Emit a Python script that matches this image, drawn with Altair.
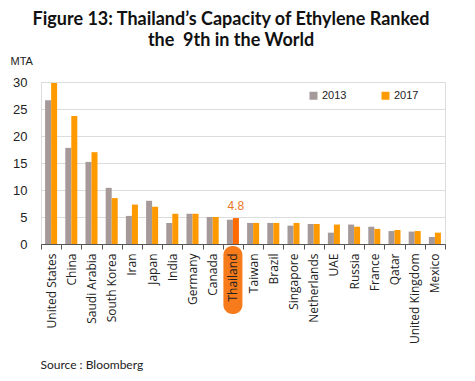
import altair as alt
import pandas as pd

countries = ["United States", "China", "Saudi Arabia", "South Korea", "Iran", "Japan",
             "India", "Germany", "Canada", "Thailand", "Taiwan", "Brazil", "Singapore",
             "Netherlands", "UAE", "Russia", "France", "Qatar", "United Kingdom", "Mexico"]
v2013 = [26.6, 17.8, 15.2, 10.4, 5.2, 8.0, 3.9, 5.6, 5.0, 4.5, 3.9, 3.9, 3.4, 3.7, 2.1, 3.6, 3.2, 2.4, 2.3, 1.3]
v2017 = [29.8, 23.7, 17.0, 8.5, 7.3, 6.9, 5.6, 5.6, 5.0, 4.8, 3.9, 3.9, 3.9, 3.7, 3.6, 3.2, 2.8, 2.6, 2.4, 2.1]
years = ["2013", "2017"]
highlight = "Thailand"

rows = []
for c, a, b in zip(countries, v2013, v2017):
    rows.append({"country": c, "year": "2013", "value": a, "ckey": "2013"})
    rows.append({"country": c, "year": "2017", "value": b, "ckey": "hl" if c == highlight else "2017"})
df = pd.DataFrame(rows)
hl_df = df[(df.country == highlight) & (df.year == "2017")]
box_df = pd.DataFrame({"country": [highlight]})

xscale = alt.Scale(domain=countries, paddingInner=0, paddingOuter=0)

xaxis = alt.Axis(
    labelAngle=-90, labelFont="Open Sans", labelFontSize=12, labelColor="#222",
    labelPadding=4, tickSize=5, tickBand="extent", domainColor="#555", tickColor="#555",
    title="Source : Bloomberg", titleFont="Lato", titleFontSize=12, titleFontWeight="normal",
    titleColor="#222", titleX=-1, titleY=120, titleAlign="left", titleAnchor="start",
    titleBaseline="middle", zindex=1, grid=False,
)
yaxis = alt.Axis(
    values=[0, 5, 10, 15, 20, 25, 30], labelFont="Liberation Sans", labelFontSize=13,
    labelColor="#222", labelPadding=14, ticks=False, domain=False, gridColor="#DCDCDC",
    title="MTA", titleFont="Liberation Sans", titleFontSize=11, titleFontWeight="normal",
    titleColor="#222", titleAngle=0, titleX=-31, titleY=-21, titleAlign="left",
    titleBaseline="middle",
)

box = alt.Chart(box_df).mark_bar(width=19, cornerRadius=9, color="#F77B1A").encode(
    x=alt.X("country:N", scale=xscale, axis=xaxis),
    y=alt.value(164), y2=alt.value(232),
)

bars = alt.Chart(df).mark_bar().encode(
    x=alt.X("country:N", scale=xscale, axis=xaxis),
    xOffset=alt.XOffset("year:N", scale=alt.Scale(domain=years, paddingInner=0, paddingOuter=0.68)),
    y=alt.Y("value:Q", scale=alt.Scale(domain=[0, 30]), axis=yaxis),
    color=alt.Color("ckey:N",
                    scale=alt.Scale(domain=["2013", "2017", "hl"], range=["#A6999A", "#FF9900", "#FF6A00"]),
                    legend=alt.Legend(values=years, title=None, orient="none", legendX=267, legendY=8,
                                      direction="horizontal", symbolType="square", symbolSize=64,
                                      symbolStrokeWidth=0, labelFont="Liberation Sans", labelFontSize=11,
                                      labelColor="#222", columnPadding=33, labelOffset=3, padding=0)),
)

label = alt.Chart(hl_df).mark_text(dy=-12, font="Liberation Sans", fontSize=12, color="#E8761F").encode(
    x=alt.X("country:N", scale=xscale, axis=xaxis),
    xOffset=alt.XOffset("year:N", scale=alt.Scale(domain=years, paddingInner=0, paddingOuter=0.68)),
    y=alt.Y("value:Q", scale=alt.Scale(domain=[0, 30]), axis=yaxis),
    text=alt.Text("value:Q", format=".1f"),
)

chart = alt.layer(box, bars, label).properties(
    width=404, height=162,
    autosize=alt.AutoSizeParams(type="none"),
    padding={"left": 33, "top": 74, "right": 22, "bottom": 128},
    title=alt.Title(["Figure 13: Thailand\u2019s Capacity of Ethylene Ranked", "the\u00a0 9th in the World"],
                    font="Lato", fontSize=18, fontWeight="bold", color="#111", anchor="middle",
                    dx=-12, offset=5, lineHeight=21),
).configure_view(stroke=None).configure(background="white")

chart.save("out.html", embed_options={"renderer": "svg", "actions": False})
